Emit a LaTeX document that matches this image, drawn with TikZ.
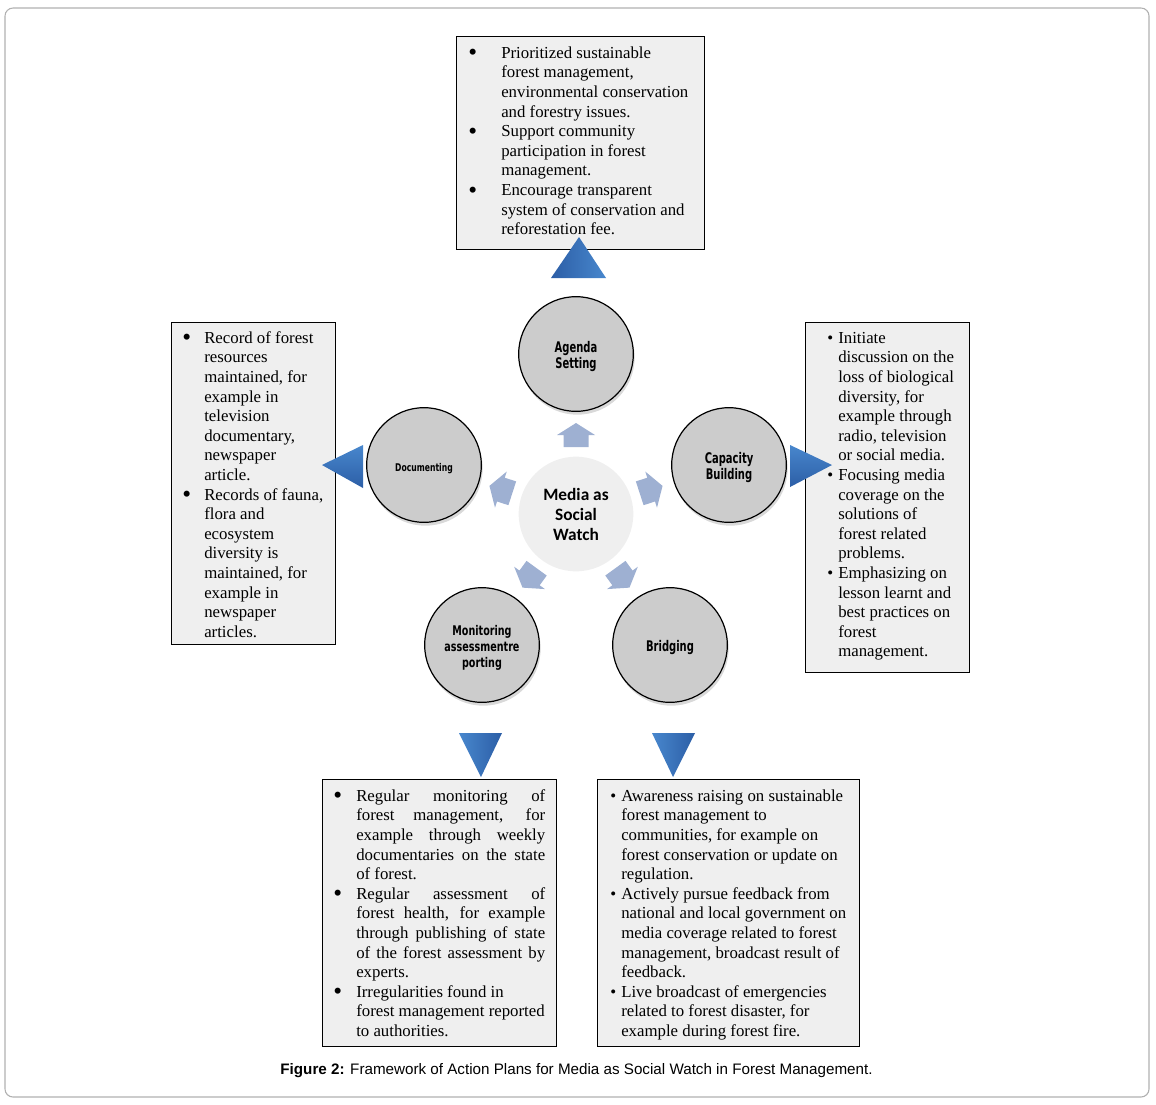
\documentclass[tikz,border=0pt]{standalone}
\usepackage{fontspec}
\usepackage{graphicx}
\setmainfont{Liberation Serif}
\newfontfamily\capfont{Liberation Sans}
\newfontfamily\cenfont{Carlito}
\newfontfamily\lblfont{DejaVu Sans}
\usetikzlibrary{shadows}
\definecolor{boxgray}{RGB}{239,239,239}
\definecolor{cengray}{RGB}{239,239,239}
\definecolor{circgray}{RGB}{204,204,204}
\definecolor{framegray}{RGB}{176,176,176}
\definecolor{bluelight}{RGB}{72,135,205}
\definecolor{bluedark}{RGB}{44,94,166}
\definecolor{smblue}{RGB}{158,176,210}
\newcommand{\bl}{\textbullet}
\newcommand{\bbl}{\raisebox{-1.9pt}{\scalebox{1.5}{\textbullet}}}
\newcommand{\jl}[1]{\makebox[141.75pt][s]{#1}}
\newcommand{\lbltab}[2][0.68]{\raisebox{-2.25pt}[\height][\depth]{\scalebox{#1}[1]{\begin{tabular}{@{}c@{}}#2\end{tabular}}}}
\tikzset{
  x=0.75pt, y=-0.75pt,
  txtbox/.style={draw=black, line width=0.8pt, fill=boxgray, anchor=north west, inner sep=0pt},
  boxtext/.style={anchor=north west, inner sep=0pt, font=\fontsize{12.6}{14.7}\selectfont},
  circ/.style={circle, draw=black, line width=0.9pt, fill=circgray, minimum size=86pt, inner sep=0pt,
     drop shadow={shadow xshift=1pt, shadow yshift=-2.5pt, opacity=0.3, fill=gray},
     font=\lblfont\bfseries\fontsize{11}{12}\selectfont},
  smarrow/.style={fill=smblue, draw=none},
  bigtri/.style={draw=none}
}
\newcommand{\smarr}[1]{%
  \begin{scope}[shift={(576,514)}, rotate=#1]
    \path[smarrow] (0,-91) -- (19,-79) -- (12.5,-79) -- (12.5,-67) -- (-12.5,-67) -- (-12.5,-79) -- (-19,-79) -- cycle;
  \end{scope}}
\begin{document}
\begin{tikzpicture}
\useasboundingbox (0,0) rectangle (1156,1104);
% outer frame
\draw[framegray, line width=0.8pt, rounded corners=6pt] (5,8) rectangle (1149,1097);

% text boxes
\node[txtbox, minimum width=186pt, minimum height=159.75pt] (topbox) at (456,36) {};
\node[boxtext] (toptext) at (468,44.3) {\begin{tabular}{@{}p{24.75pt}@{}l@{}}
\bbl & Prioritized sustainable\\
 & forest management,\\
 & environmental conservation\\
 & and forestry issues.\\
\bbl & Support community\\
 & participation in forest\\
 & management.\\
\bbl & Encourage transparent\\
 & system of conservation and\\
 & reforestation fee.
\end{tabular}};

\node[txtbox, minimum width=123pt, minimum height=241.5pt] (leftbox) at (171,322) {};
\node[boxtext] (lefttext) at (182,329.3) {\begin{tabular}{@{}p{16.5pt}@{}l@{}}
\bbl & Record of forest\\
 & resources\\
 & maintained, for\\
 & example in\\
 & television\\
 & documentary,\\
 & newspaper\\
 & article.\\
\bbl & Records of fauna,\\
 & flora and\\
 & ecosystem\\
 & diversity is\\
 & maintained, for\\
 & example in\\
 & newspaper\\
 & articles.
\end{tabular}};

\node[txtbox, minimum width=123pt, minimum height=262.5pt] (rightbox) at (805,322) {};
\node[boxtext] (righttext) at (827,329.3) {\begin{tabular}{@{}p{8.25pt}@{}l@{}}
\bl & Initiate\\
 & discussion on the\\
 & loss of biological\\
 & diversity, for\\
 & example through\\
 & radio, television\\
 & or social media.\\
\bl & Focusing media\\
 & coverage on the\\
 & solutions of\\
 & forest related\\
 & problems.\\
\bl & Emphasizing on\\
 & lesson learnt and\\
 & best practices on\\
 & forest\\
 & management.
\end{tabular}};

\node[txtbox, minimum width=175.5pt, minimum height=200.25pt] (blbox) at (322,779) {};
\node[boxtext] (bltext) at (333,787.3) {\begin{tabular}{@{}p{17.25pt}@{}l@{}}
\bbl & \jl{Regular monitoring of}\\
 & \jl{forest management, for}\\
 & \jl{example through weekly}\\
 & \jl{documentaries on the state}\\
 & of forest.\\
\bbl & \jl{Regular assessment of}\\
 & \jl{forest health, for example}\\
 & \jl{through publishing of state}\\
 & \jl{of the forest assessment by}\\
 & experts.\\
\bbl & Irregularities found in\\
 & forest management reported\\
 & to authorities.
\end{tabular}};

\node[txtbox, minimum width=196.5pt, minimum height=200.25pt] (brbox) at (597,779) {};
\node[boxtext] (brtext) at (610,787.3) {\begin{tabular}{@{}p{8.25pt}@{}l@{}}
\bl & Awareness raising on sustainable\\
 & forest management to\\
 & communities, for example on\\
 & forest conservation or update on\\
 & regulation.\\
\bl & Actively pursue feedback from\\
 & national and local government on\\
 & media coverage related to forest\\
 & management, broadcast result of\\
 & feedback.\\
\bl & Live broadcast of emergencies\\
 & related to forest disaster, for\\
 & example during forest fire.
\end{tabular}};

% big blue triangles
\shade[bigtri, left color=bluedark, right color=bluelight] (551,278) -- (579,237) -- (606,278) -- cycle;
\shade[bigtri, top color=bluelight, bottom color=bluedark] (363,445) -- (322,465) -- (363,488) -- cycle;
\shade[bigtri, top color=bluelight, bottom color=bluedark] (790,445) -- (832,465) -- (790,487) -- cycle;
\shade[bigtri, left color=bluelight, right color=bluedark] (459,733) -- (502,733) -- (481,777) -- cycle;
\shade[bigtri, left color=bluelight, right color=bluedark] (652,733) -- (695,733) -- (673,777) -- cycle;

% centre
\node[circle, fill=cengray, minimum size=86pt, inner sep=0pt, align=center,
      font=\cenfont\bfseries\fontsize{13}{15}\selectfont] (media) at (576,514) {Media as\\Social\\Watch};

% small arrows
\smarr{0}
\smarr{72}
\smarr{-72}
\smarr{144}
\smarr{-144}

% circles
\node[circ] (agenda) at (576,354) {\lbltab{Agenda\\Setting}};
\node[circ] (documenting) at (424,465) {\lbltab[0.72]{\fontsize{8}{9}\selectfont Documenting}};
\node[circ] (capacity) at (729,465) {\lbltab{Capacity\\Building}};
\node[circ] (monitoring) at (482,645) {\lbltab[0.72]{\fontsize{10}{11.25}\selectfont Monitoring\\\fontsize{10}{11.25}\selectfont assessmentre\\\fontsize{10}{11.25}\selectfont porting}};
\node[circ] (bridging) at (670,645) {\lbltab{Bridging}};

% caption
\node[font=\capfont\fontsize{11.4}{13}\selectfont, inner sep=0pt] (caption) at (576.5,1071) {\textbf{Figure 2:} Framework of Action Plans for Media as Social Watch in Forest Management.};
\end{tikzpicture}
\end{document}
